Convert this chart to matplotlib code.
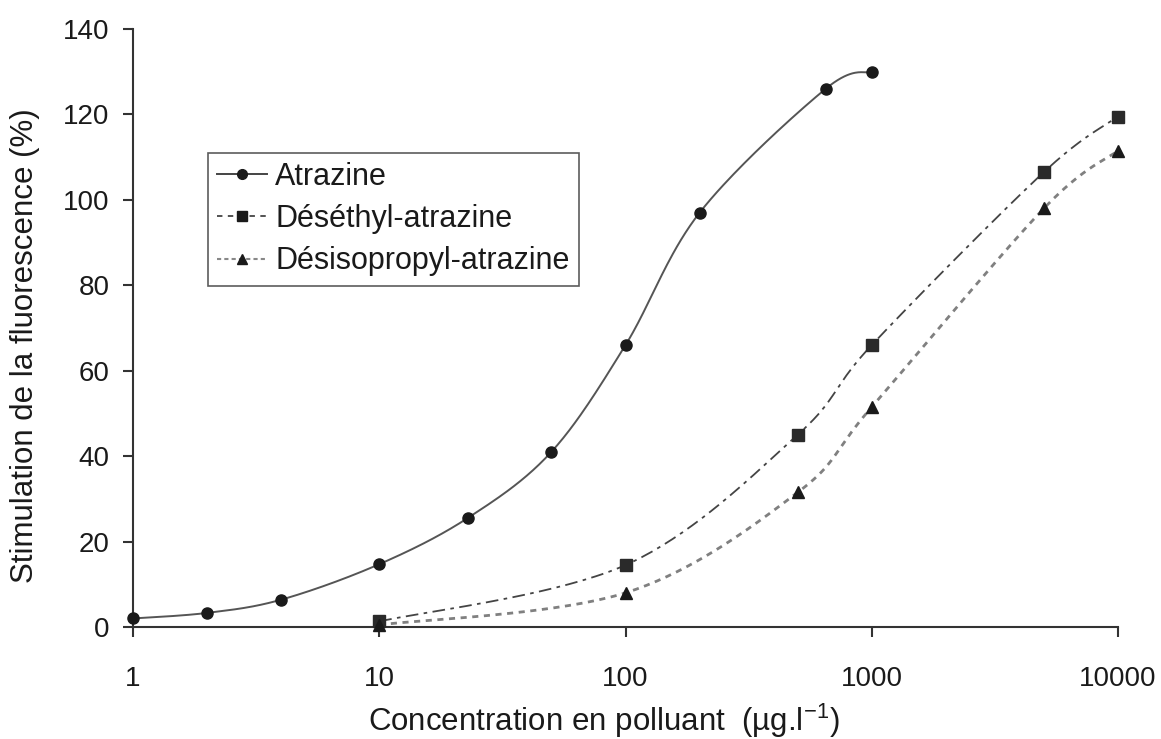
import numpy as np
import matplotlib
matplotlib.use("Agg")
import matplotlib.pyplot as plt
from matplotlib.lines import Line2D

plt.rcParams['font.family'] = ['Liberation Sans', 'DejaVu Sans']
plt.rcParams['mathtext.fontset'] = 'custom'
plt.rcParams['mathtext.rm'] = 'Liberation Sans'
plt.rcParams['mathtext.it'] = 'Liberation Sans'

# ---- data ----
atra_x = [1, 2, 4, 10, 23, 50, 100, 200, 650, 1000]
atra_y = [2.0, 3.3, 6.4, 14.7, 25.6, 41.0, 66.0, 97.0, 126.0, 130.0]

deset_x = [10, 100, 500, 1000, 5000, 10000]
deset_y = [1.3, 14.5, 45.0, 66.0, 106.5, 119.5]

desiso_x = [10, 100, 500, 1000, 5000, 10000]
desiso_y = [0.5, 8.0, 31.5, 51.5, 98.0, 111.5]

labels = ["Atrazine", "Déséthyl-atrazine", "Désisopropyl-atrazine"]
x_ticks = [1, 10, 100, 1000, 10000]
y_ticks = [0, 20, 40, 60, 80, 100, 120, 140]
xlabel = "Concentration en polluant  (µg.l$^{-1}$)"
ylabel = "Stimulation de la fluorescence (%)"


def smooth(xs, ys, n=40):
    """Catmull-Rom style smoothing in (log10 x, y) space (like a spreadsheet smooth line)."""
    lx = np.log10(np.asarray(xs, float))
    y = np.asarray(ys, float)
    P = np.column_stack([lx, y])
    out = []
    for i in range(len(P) - 1):
        p0 = P[i - 1] if i > 0 else P[i]
        p1 = P[i]
        p2 = P[i + 1]
        p3 = P[i + 2] if i + 2 < len(P) else P[i + 1]
        c1 = p1 + (p2 - p0) / 6.0
        c2 = p2 - (p3 - p1) / 6.0
        t = np.linspace(0, 1, n)[:, None]
        seg = ((1 - t) ** 3) * p1 + 3 * ((1 - t) ** 2) * t * c1 + 3 * (1 - t) * t ** 2 * c2 + t ** 3 * p2
        out.append(seg if i == 0 else seg[1:])
    S = np.vstack(out)
    return 10 ** S[:, 0], S[:, 1]


fig = plt.figure(figsize=(11.61, 7.39), dpi=100)
ax = fig.add_axes([133 / 1161, 1 - 627 / 739, (1118 - 133) / 1161, (627 - 29) / 739])

ax.set_xscale('log')
ax.set_xlim(1, 10000)
ax.set_ylim(0, 140)

# Atrazine
sx, sy = smooth(atra_x, atra_y)
ax.plot(sx, sy, color='#555555', lw=1.4, solid_capstyle='round', clip_on=False)
ax.plot(atra_x, atra_y, 'o', color='#1a1a1a', ms=8, clip_on=False, zorder=5)

# Deséthyl
sx, sy = smooth(deset_x, deset_y)
ax.plot(sx, sy, color='#444444', lw=1.3, dashes=(7, 3, 2, 3), clip_on=False)
ax.plot(deset_x, deset_y, 's', color='#2a2a2a', ms=8.5, clip_on=False, zorder=5)

# Désisopropyl
sx, sy = smooth(desiso_x, desiso_y)
ax.plot(sx, sy, color='#808080', lw=2.0, dashes=(2.2, 2.0), clip_on=False)
ax.plot(desiso_x, desiso_y, '^', color='#1a1a1a', ms=9, clip_on=False, zorder=5)

for s in ['top', 'right']:
    ax.spines[s].set_visible(False)
for s in ['left', 'bottom']:
    ax.spines[s].set_color('#333333')
    ax.spines[s].set_linewidth(1.5)

ax.set_xticks(x_ticks)
ax.set_xticklabels([str(v) for v in x_ticks])
ax.xaxis.set_minor_locator(matplotlib.ticker.NullLocator())
ax.set_yticks(y_ticks)
ax.set_yticklabels([str(v) for v in y_ticks])
ax.tick_params(axis='x', direction='out', length=7, width=1.5, color='#333333',
               labelsize=20, pad=21, labelcolor='#1a1a1a')
ax.tick_params(axis='y', direction='out', length=7, width=1.5, color='#333333',
               labelsize=20, pad=10, labelcolor='#1a1a1a')

ax.set_xlabel(xlabel, fontsize=22.5, color='#1a1a1a')
ax.xaxis.set_label_coords(0.478, -0.125)
ax.set_ylabel(ylabel, fontsize=22.5, color='#1a1a1a')
ax.yaxis.set_label_coords(-0.094, 0.47)

handles = [
    Line2D([], [], color='#444444', lw=1.4, marker='o', ms=7, mfc='#1a1a1a', mec='#1a1a1a'),
    Line2D([], [], color='#444444', lw=1.3, dashes=(3, 3), marker='s', ms=7, mfc='#1a1a1a', mec='#1a1a1a'),
    Line2D([], [], color='#888888', lw=1.5, dashes=(2, 1.5), marker='^', ms=7, mfc='#1a1a1a', mec='#1a1a1a'),
]
leg = ax.legend(handles, labels, loc='upper left', bbox_to_anchor=(0.076, 0.793),
                fontsize=22, frameon=True, fancybox=False, handlelength=1.65,
                handletextpad=0.25, borderpad=0.3, labelspacing=0.4, borderaxespad=0)
leg.get_frame().set_edgecolor('#333333')
leg.get_frame().set_linewidth(1.2)
for t in leg.get_texts():
    t.set_color('#1a1a1a')

fig.savefig('out.png', dpi=100, facecolor='white')
